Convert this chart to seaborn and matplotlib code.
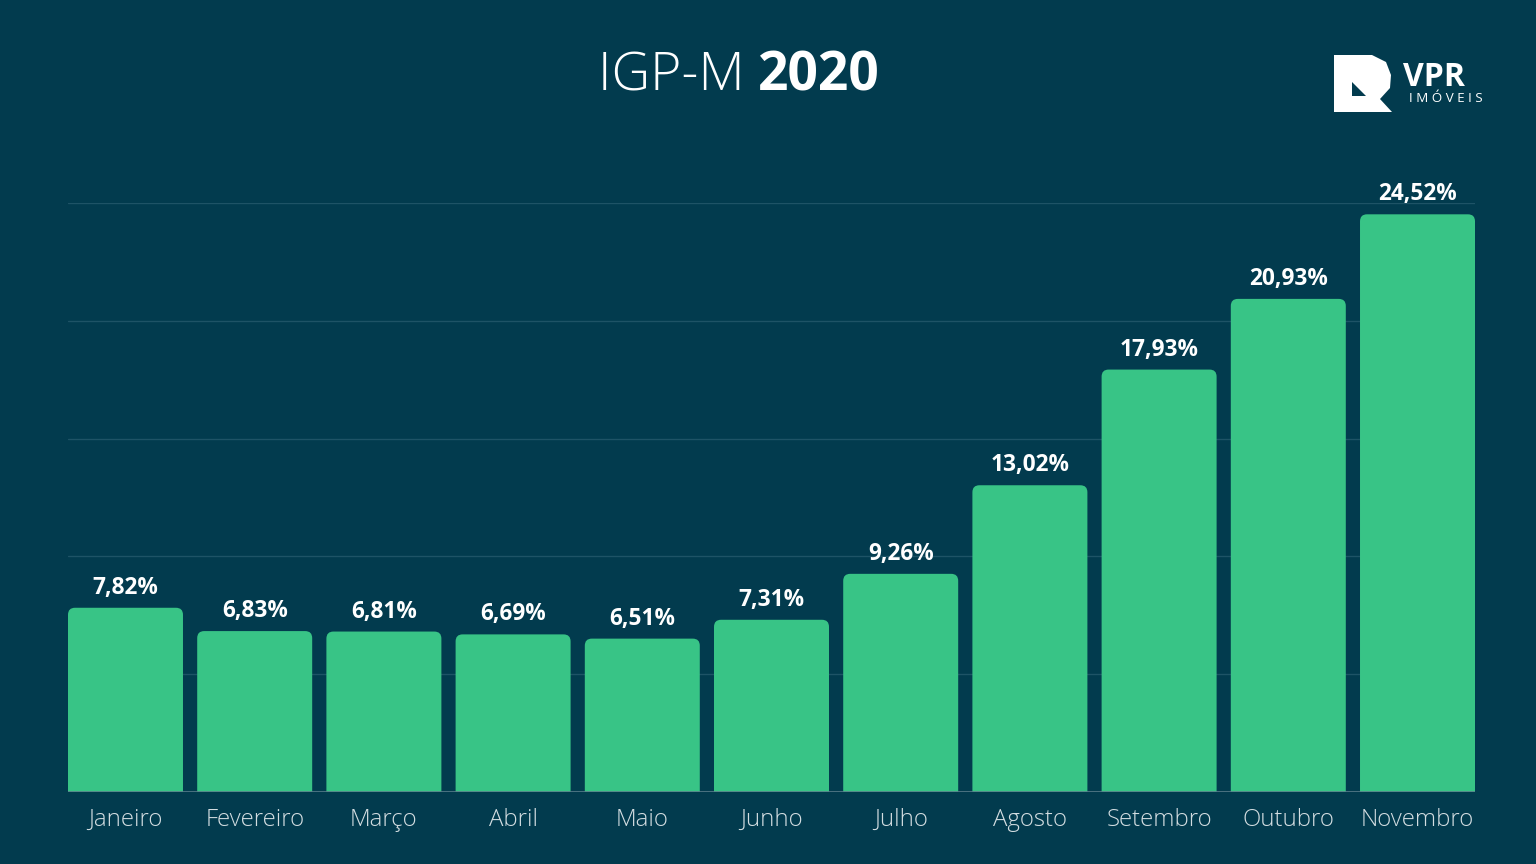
import matplotlib
matplotlib.use("Agg")
import matplotlib.pyplot as plt
import seaborn as sns
import pandas as pd
from matplotlib.patches import FancyBboxPatch, Polygon

# data
months = ["Janeiro", "Fevereiro", "Março", "Abril", "Maio", "Junho",
          "Julho", "Agosto", "Setembro", "Outubro", "Novembro"]
igpm = [7.82, 6.83, 6.81, 6.69, 6.51, 7.31, 9.26, 13.02, 17.93, 20.93, 24.52]
grid_ticks = [5, 10, 15, 20, 25]

bg = "#023B4E"
bar_color = "#38C486"
grid_color = "#1E5366"

sns.set_theme(style="white")
plt.rcParams["font.family"] = ["Open Sans", "DejaVu Sans"]

df = pd.DataFrame({"mes": months, "valor": igpm})

fig = plt.figure(figsize=(16, 9), dpi=96, facecolor=bg)
ax = fig.add_axes([68 / 1536, 72 / 864, (1475 - 68) / 1536, (792 - 203) / 864])
ax.set_facecolor(bg)

sns.barplot(data=df, x="mes", y="valor", color=bar_color, width=0.89,
            saturation=1, ax=ax, zorder=3)

ax.set_xlim(-0.445, 10.445)
ax.set_ylim(0, 25)

# swap plain bars for rounded ones
xpx = (1475 - 68) / 10.89
ypx = (792 - 203) / 25
r = 7 / xpx
for p in list(ax.patches):
    x, w, h = p.get_x(), p.get_width(), p.get_height()
    p.set_visible(False)
    rb = FancyBboxPatch((x, -1), w, h + 1,
                        boxstyle=f"round,pad=0,rounding_size={r}",
                        mutation_aspect=xpx / ypx,
                        facecolor=bar_color, edgecolor="none", zorder=3)
    ax.add_patch(rb)
    ax.text(x + w / 2, h + 8 / ypx, f"{h:.2f}%".replace(".", ","),
            ha="center", va="bottom", color="white", fontsize=17,
            fontweight="bold", zorder=4)

for t in grid_ticks:
    ax.axhline(t, color=grid_color, lw=1, zorder=1)
ax.axhline(0, color="#5A7E8C", lw=1.2, zorder=4)

ax.set_yticks([])
ax.set_xlabel("")
ax.set_ylabel("")
ax.tick_params(axis="x", length=0, pad=12, labelsize=18, labelcolor="#D3DDE1")
for lbl in ax.get_xticklabels():
    lbl.set_fontweight("light")
sns.despine(ax=ax, left=True, bottom=True, top=True, right=True)

# title
fig.text(0.4935, 0.911, "IGP-M ", ha="right", va="center", color="white",
         fontsize=40, fontweight="light")
fig.text(0.4935, 0.911, "2020", ha="left", va="center", color="white",
         fontsize=40, fontweight="bold")

# logo
W, H = 1536, 864
def fx(px):
    return px / W
def fy(py):
    return 1 - py / H
logo = Polygon([(fx(1334), fy(55)), (fx(1372), fy(55)), (fx(1386), fy(62)),
                (fx(1391), fy(75)), (fx(1390), fy(88)), (fx(1380), fy(99)),
                (fx(1392), fy(112)), (fx(1334), fy(112))], closed=True,
               transform=fig.transFigure, facecolor="white", edgecolor="none")
fig.patches.append(logo)
notch = Polygon([(fx(1352), fy(82)), (fx(1366), fy(96)), (fx(1352), fy(96))],
                closed=True, transform=fig.transFigure, facecolor=bg,
                edgecolor="none")
fig.patches.append(notch)
fig.text(fx(1403), fy(77), "VPR", ha="left", va="center", color="white",
         fontsize=24, fontweight="bold")
fig.text(fx(1409), fy(99), "I M Ó V E I S", ha="left", va="center",
         color="white", fontsize=10)

fig.savefig("out.png", dpi=96, facecolor=bg)
